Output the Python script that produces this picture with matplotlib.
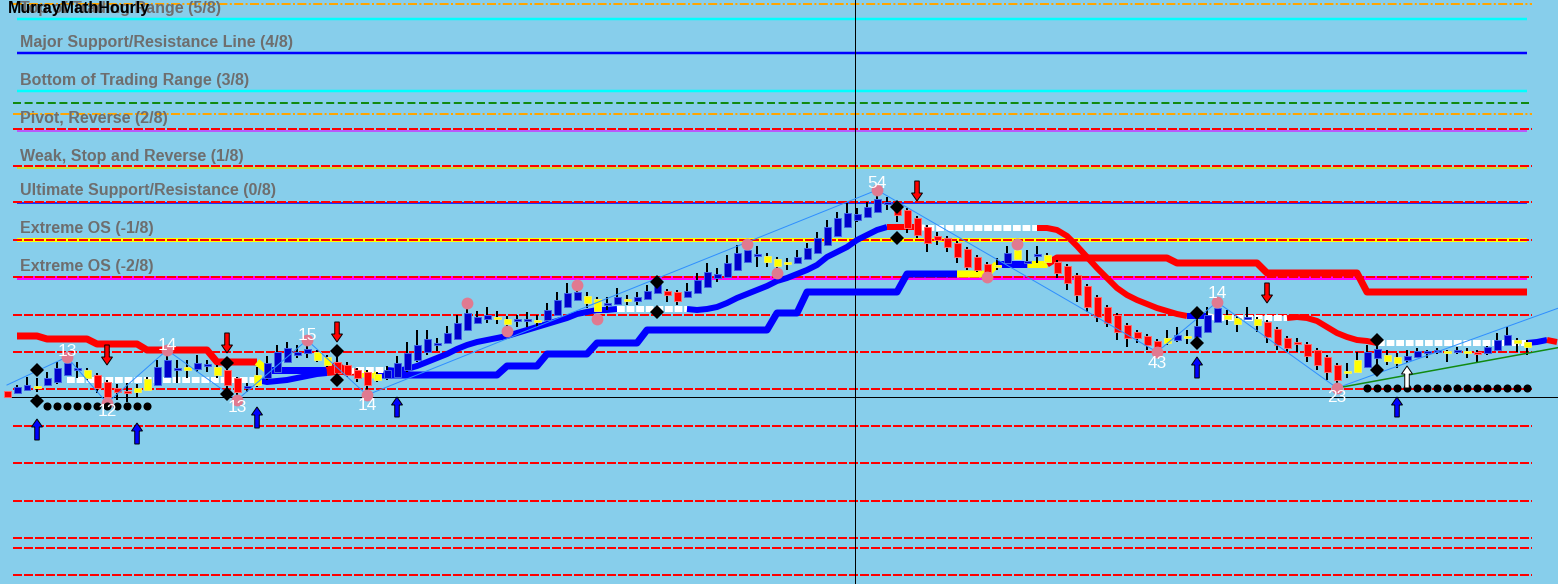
import numpy as np
import matplotlib
matplotlib.use("Agg")
import matplotlib.pyplot as plt
from matplotlib.patches import FancyArrow

plt.rcParams['font.family'] = ['Liberation Sans', 'DejaVu Sans']

PX = 0.72  # one pixel in points at dpi 100

# hourly bars (price scale of the chart, one entry per bar)
opens = [209, 207, 210, 212, 215, 218, 225, 230, 222, 225,
         218, 212, 209, 208, 210, 215, 223, 230, 230, 231,
         234, 225, 230, 222, 212, 215, 222, 228, 238, 245,
         247, 240, 235, 238, 235, 230, 228, 220, 222, 223,
         230, 240, 248, 255, 257, 261, 270, 277, 281, 281,
         276, 279, 279, 278, 280, 285, 293, 300, 297, 289,
         295, 296, 299, 299, 301, 307, 309, 308, 303, 307,
         313, 322, 323, 330, 338, 344, 338, 334, 336, 337,
         341, 347, 355, 364, 373, 380, 383, 388, 396, 395,
         390, 382, 373, 364, 362, 357, 351, 343, 336, 333,
         337, 341, 337, 344, 338, 338, 334, 325, 314, 303,
         293, 285, 275, 268, 264, 259, 257, 260, 262, 263,
         268, 278, 281, 276, 281, 275, 278, 271, 262, 258,
         256, 250, 243, 235, 227, 228, 233, 242, 239, 237,
         240, 243, 247, 248, 247, 248, 247, 248, 247, 250,
         255, 257, 253]
highs = [209, 215, 223, 222, 228, 238, 244, 238, 232, 227,
         220, 216, 217, 216, 223, 240, 250, 240, 240, 245,
         240, 235, 236, 223, 217, 233, 244, 255, 258, 255,
         257, 250, 245, 250, 238, 232, 230, 228, 234, 244,
         258, 270, 270, 262, 274, 285, 295, 289, 293, 289,
         284, 285, 288, 285, 297, 308, 317, 315, 308, 303,
         303, 312, 305, 308, 315, 322, 311, 310, 317, 327,
         337, 332, 345, 355, 356, 354, 347, 343, 342, 350,
         357, 368, 380, 388, 397, 392, 398, 405, 403, 397,
         392, 384, 375, 368, 364, 359, 353, 345, 338, 342,
         354, 352, 350, 354, 347, 340, 336, 327, 316, 305,
         295, 287, 277, 270, 266, 261, 270, 273, 270, 285,
         293, 300, 290, 284, 293, 283, 280, 273, 264, 262,
         258, 252, 245, 237, 237, 248, 255, 255, 250, 247,
         250, 252, 250, 252, 250, 253, 252, 250, 254, 267,
         273, 262, 260]
lows = [203, 206, 209, 208, 214, 216, 224, 222, 220, 207,
        195, 200, 198, 202, 209, 214, 222, 217, 222, 228,
        228, 222, 207, 202, 208, 213, 220, 227, 237, 242,
        242, 238, 233, 220, 223, 218, 207, 218, 220, 222,
        228, 238, 245, 249, 256, 260, 269, 276, 277, 276,
        273, 273, 273, 273, 279, 284, 292, 299, 292, 288,
        290, 295, 295, 295, 300, 306, 298, 295, 302, 306,
        312, 318, 322, 329, 337, 333, 333, 332, 330, 336,
        340, 346, 354, 363, 372, 378, 382, 387, 390, 378,
        367, 362, 348, 355, 348, 337, 330, 328, 325, 330,
        336, 340, 336, 337, 337, 322, 310, 298, 288, 278,
        273, 260, 253, 257, 250, 248, 255, 258, 256, 258,
        267, 277, 275, 268, 280, 268, 257, 250, 248, 248,
        238, 230, 220, 216, 222, 227, 232, 230, 235, 232,
        237, 242, 242, 246, 238, 246, 242, 238, 245, 249,
        254, 248, 245]
closes = [203, 213, 215, 214, 222, 232, 237, 231, 230, 212,
          203, 208, 207, 212, 221, 233, 240, 231, 233, 237,
          236, 233, 215, 208, 214, 225, 237, 248, 252, 248,
          251, 248, 243, 227, 225, 222, 215, 226, 230, 237,
          247, 255, 261, 257, 267, 277, 287, 283, 285, 283,
          281, 280, 280, 280, 290, 300, 307, 308, 304, 301,
          297, 303, 301, 303, 309, 317, 305, 299, 309, 320,
          328, 326, 337, 347, 350, 346, 344, 341, 338, 343,
          352, 362, 373, 382, 387, 386, 393, 401, 398, 385,
          372, 365, 357, 360, 353, 343, 333, 330, 328, 335,
          347, 350, 339, 346, 345, 327, 317, 305, 293, 283,
          277, 268, 262, 262, 255, 253, 262, 265, 264, 274,
          285, 292, 285, 282, 283, 281, 263, 255, 252, 256,
          244, 235, 228, 220, 229, 240, 248, 251, 245, 243,
          244, 249, 249, 250, 249, 250, 249, 246, 253, 260,
          265, 260, 258]
# b = up bar, r = down bar, y = neutral bar
bar_kind = ("rbbybbbbyr" "rrryybbbyb" "byrrbybbbb" "byyrrrrybb" "bbbbbbbbby"
            "ybbybbbbyy" "bbybbbrrbb" "bbbbbbyyyb" "bbbbbbbbbr" "rrrrrrrrry"
            "bybbyrrrrr" "rrrrrrybyb" "bbyybyrrrr" "rrrryybbyy" "bbbbybyrbb"
            "byy")

# Murray Math octave lines
murray_levels = [581, 547, 509, 469.5, 432.5, 397, 360, 322]
murray_names = ["Top of Trading Range (5/8)", "Major Support/Resistance Line (4/8)",
                "Bottom of Trading Range (3/8)", "Pivot, Reverse (2/8)",
                "Weak, Stop and Reverse (1/8)", "Ultimate Support/Resistance (0/8)",
                "Extreme OS (-1/8)", "Extreme OS (-2/8)"]
murray_label_y = [591, 558, 520, 482, 444, 409, 371, 333]
red_levels = [471, 434, 398, 360, 323, 285, 248, 211, 174, 137, 99, 62, 52, 25]
orange_levels = [596, 486]
green_levels = [497]
last_price = 203
now_bar = 84.8

# stepped trailing stop (bars 1..152)
stop_levels = [264, 261, 256, 250, 238, 230, 235, 228, 225, 225, 234, 246, 257,
               270, 287, 308, 326, 336, 342, 337, 327, 308]
stop_counts = [3, 5, 5, 7, 5, 7, 1, 2, 2, 12, 4, 5, 5, 13, 3, 10, 9, 6, 12, 9, 10, 17]
stop_state_runs = [('r', 25), ('y', 1), ('b', 6), ('r', 3), ('y', 2), ('b', 58),
                   ('y', 4), ('b', 3), ('y', 2), ('r', 48)]

# smoothed trend line (bars 6..155)
trend_vals = ([220] * 20 + [218, 219, 220, 222, 224, 226, 227, 228, 228] + [230] * 4 +
              [229, 231, 234, 238, 242, 246, 251, 255, 258, 260, 262, 264, 267, 270,
               273, 276, 279, 282, 286, 288, 290, 290, 291] + [291] * 7 +
              [290, 291, 293, 297, 302, 306, 310, 314, 319, 322, 326, 330, 335, 343,
               348, 353, 360, 365, 370, 373, 373, 373, 373] + [372] * 12 +
              [372, 370, 364, 354, 343, 332, 322, 312, 305, 300, 296, 292, 289, 286,
               284, 284, 284] + [282] * 8 +
              [283, 282, 279, 273, 267, 263, 260, 259, 257] + [257] * 15 + [258, 260, 258])
trend_state_runs = [('w', 20), ('b', 7), ('r', 2), ('w', 4), ('b', 23), ('w', 7),
                    ('b', 20), ('r', 3), ('w', 12), ('r', 15), ('b', 2), ('w', 8),
                    ('r', 9), ('w', 15), ('b', 2), ('r', 1)]

# zigzag swings and swing bar counts
zz_bars = [0, 6, 10, 16, 23, 30, 36, 87, 115, 121, 133, 156]
zz_prices = [215, 243, 197, 250, 200, 260, 205, 410, 248, 298, 212, 295]
swing_bars = [6, 10, 16, 23, 30, 36, 87, 115, 121, 133]
swing_text = ["13", "12", "14", "13", "15", "14", "54", "43", "14", "23"]
swing_text_y = [248, 188, 255, 192, 264, 195, 416, 237, 306, 202]

# fractal points
fractal_bars = [6, 10, 16, 23, 30, 36, 46, 50, 57, 59, 74, 77, 87, 98, 101, 115, 121, 133]
fractal_prices = [243, 197, 250, 200, 260, 205, 297, 269, 315, 281, 356, 327, 410,
                  323, 356, 248, 298, 212]

# diamonds (channel signals)
diamond_bars = [3, 3, 22, 22, 33, 33, 65, 65, 89, 89, 119, 119, 137, 137]
diamond_prices = [230, 199, 237, 206, 249, 220, 318, 288, 393, 362, 287, 257, 260, 230]

# arrows: bar, tail price, tip price
sell_arrows = [(10, 255, 235), (22, 267, 247), (33, 278, 258), (91, 419, 399), (126, 317, 297)]
buy_arrows = [(3, 160, 181), (13, 156, 177), (25, 172, 193), (39, 183, 203),
              (119, 222, 243), (139, 183, 203)]
white_arrows = [(140, 212, 234)]

# dotted support rows
dots_a_bars = list(range(4, 15))
dots_a_price = 194
dots_b_bars = list(range(136, 153))
dots_b_price = 212

# trend support line
green_bars = [133, 156]
green_prices = [212, 254]

bg = '#87CEEB'
fig = plt.figure(figsize=(15.58, 5.84), dpi=100)
fig.patch.set_facecolor(bg)
ax = fig.add_axes([0, 0, 1, 1])
ax.set_facecolor(bg)
ax.set_xlim(-0.7, 155.1)
ax.set_ylim(16, 600)
ax.set_xticks([])
ax.set_yticks([])
for s in ax.spines.values():
    s.set_visible(False)

# horizontal levels
murray_colors = ['#00FFFF', '#0000FF', '#00FFFF', '#CC33FF', '#CCDD33', '#0000FF', '#FFFF00', '#FF00FF']
murray_widths = [2.5, 2.5, 2.5, 1.5, 2, 1.5, 4, 4]
for lvl, c, w in zip(murray_levels, murray_colors, murray_widths):
    ax.plot([1.0, 152.0], [lvl, lvl], color=c, lw=w * PX, zorder=1, solid_capstyle='butt')
for lvl in red_levels:
    ax.plot([0.6, 152.5], [lvl, lvl], color='#FF0000', lw=2 * PX, dashes=(4.5, 1),
            dash_capstyle='butt', zorder=1.5)
for lvl in orange_levels:
    ax.plot([0.6, 152.5], [lvl, lvl], color='#FFA500', lw=2 * PX, dashes=(4.5, 1.2, 1, 1.2),
            dash_capstyle='butt', zorder=1.5)
for lvl in green_levels:
    ax.plot([0.6, 152.5], [lvl, lvl], color='#118A11', lw=2 * PX, dashes=(4, 1.8),
            dash_capstyle='butt', zorder=1.5)
for name, ly in zip(murray_names, murray_label_y):
    ax.text(1.3, ly, name, color='#6E6E6E', fontsize=11.5, fontweight='bold',
            ha='left', va='center', zorder=2)

ax.plot([-0.2, 156], [last_price, last_price], color='black', lw=1 * PX, zorder=1.8)
ax.axvline(now_bar, color='black', lw=1 * PX, zorder=1.8)

state_color = {'b': '#0000FF', 'r': '#FF0000', 'y': '#FFFF00'}


def state_line(first_bar, vals, states, lw, z):
    xs = np.arange(first_bar, first_bar + len(vals))
    n = len(vals)
    k = 1
    while k < n:
        s = states[k]
        j = k
        while j + 1 < n and states[j + 1] == s:
            j += 1
        sx = xs[k - 1:j + 1]
        sy = vals[k - 1:j + 1]
        if s == 'w':
            ax.plot(sx, sy, color='white', lw=lw, dashes=(1.3, 0.3),
                    dash_capstyle='butt', zorder=z)
        else:
            ax.plot(sx, sy, color=state_color[s], lw=lw, solid_capstyle='butt',
                    solid_joinstyle='round', zorder=z)
        k = j + 1


stop_vals = np.repeat(stop_levels, stop_counts)
stop_states = ''.join(c * n for c, n in stop_state_runs)
state_line(1, stop_vals, stop_states, 7 * PX, 3)

trend_states = ''.join(c * n for c, n in trend_state_runs)
state_line(6, np.array(trend_vals), trend_states, 6 * PX, 3.2)

# candles
idx = np.arange(len(opens))
o = np.array(opens)
c = np.array(closes)
face = {'b': '#0000CC', 'r': '#FF0000', 'y': '#FFFF00'}
edge = {'b': '#4466E6', 'r': '#FF6A6A', 'y': '#F0F060'}
ax.vlines(idx, lows, highs, color='black', lw=2 * PX, zorder=4)
bottoms = np.minimum(o, c)
heights = np.maximum(np.abs(c - o), 2.5)
ax.bar(idx, heights, bottom=bottoms, width=0.7,
       color=[face[k] for k in bar_kind], edgecolor=[edge[k] for k in bar_kind],
       linewidth=0.7, zorder=5)

# zigzag and green support line
ax.plot(zz_bars, zz_prices, color='#2F8FFF', lw=1 * PX, zorder=6)
ax.plot(green_bars, green_prices, color='#118A11', lw=1.5 * PX, zorder=6)

# markers
ax.plot(fractal_bars, fractal_prices, 'o', color='#E07A90', ms=8.5, mew=0, zorder=6.5)
ax.plot(diamond_bars, diamond_prices, 'D', color='black', ms=7, mew=0, zorder=7)
ax.plot(dots_a_bars, [dots_a_price] * len(dots_a_bars), 'o', color='black', ms=4.8, zorder=7)
ax.plot(dots_b_bars, [dots_b_price] * len(dots_b_bars), 'o', color='black', ms=4.8, zorder=7)

for group, col in [(sell_arrows, '#FF0000'), (buy_arrows, '#0000FF'), (white_arrows, 'white')]:
    for b, tail, tip in group:
        ax.add_patch(FancyArrow(b, tail, 0, tip - tail, width=0.45, head_width=1.1,
                                head_length=8, length_includes_head=True,
                                facecolor=col, edgecolor='black', lw=0.7, zorder=8))

for b, t, ty in zip(swing_bars, swing_text, swing_text_y):
    ax.text(b, ty, t, color='white', fontsize=12.5, ha='center', va='center', zorder=9)

ax.text(0.1, 592, 'MurrayMathHourly', color='black', fontsize=11.5, fontweight='bold',
        ha='left', va='center', zorder=10)

fig.savefig('out.png', dpi=100, facecolor=bg)
